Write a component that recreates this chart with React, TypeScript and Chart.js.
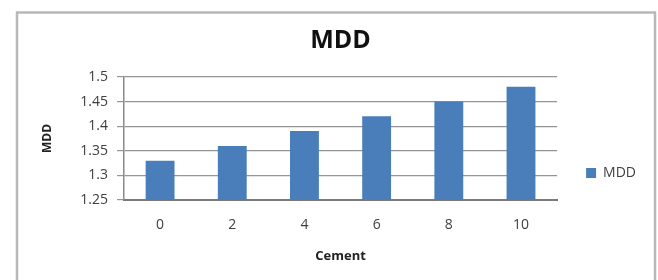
import React, { useEffect, useRef } from "react";
import { Chart, registerables } from "chart.js";

Chart.register(...registerables);

const categories = ["0", "2", "4", "6", "8", "10"];
const mddValues = [1.33, 1.36, 1.39, 1.42, 1.45, 1.48];
const seriesName = "MDD";
const chartTitle = "MDD";
const xTitle = "Cement";
const yTitle = "MDD";
const yMin = 1.25;
const yMax = 1.5;
const yStep = 0.05;

const FONT = "'Open Sans', Lato, 'Liberation Sans', sans-serif";

const framePlugin = {
  id: "frame",
  beforeDraw(chart: any) {
    const ctx = chart.ctx;
    ctx.save();
    ctx.fillStyle = "#ffffff";
    ctx.fillRect(0, 0, chart.width, chart.height);
    ctx.strokeStyle = "#b8b8b8";
    ctx.lineWidth = 2.5;
    ctx.strokeRect(17, 12.5, 638, 300);
    ctx.restore();
  },
};

export default function App() {
  const ref = useRef<HTMLCanvasElement | null>(null);

  useEffect(() => {
    document.body.style.margin = "0";
    const chart = new Chart(ref.current as HTMLCanvasElement, {
      type: "bar",
      data: {
        labels: categories,
        datasets: [
          {
            label: seriesName,
            data: mddValues,
            backgroundColor: "#4a7ebb",
            borderWidth: 0,
            barPercentage: 0.4,
            categoryPercentage: 1,
          },
        ],
      },
      plugins: [framePlugin],
      options: {
        responsive: false,
        animation: false,
        layout: { padding: { top: 0, left: 0, right: 12, bottom: 0 } },
        plugins: {
          tooltip: { enabled: false },
          title: {
            display: true,
            text: chartTitle,
            fullSize: false,
            color: "#111111",
            font: { family: FONT, size: 25, weight: "bold" },
            padding: { top: 26, bottom: 21 },
          },
          legend: {
            display: true,
            position: "right",
            align: "start",
            title: {
              display: true,
              text: "",
              font: { family: FONT, size: 12 },
              padding: { top: 0, bottom: 122.6 },
            },
            labels: {
              boxWidth: 10,
              boxHeight: 10,
              padding: 29,
              color: "#404040",
              font: { family: FONT, size: 14 },
            },
          },
        },
        scales: {
          x: {
            type: "category",
            grid: { display: true, drawOnChartArea: false, drawTicks: false },
            border: { display: true, color: "#7a7a7a", width: 2 },
            ticks: {
              padding: 17,
              color: "#404040",
              font: { family: FONT, size: 14 },
            },
            title: {
              display: true,
              text: xTitle,
              color: "#222222",
              font: { family: FONT, size: 13, weight: "bold" },
              padding: { top: 0, bottom: 16 },
            },
            afterFit(scale: any) {
              scale.height = 80;
            },
          },
          y: {
            min: yMin,
            max: yMax,
            grid: { color: "#959595", lineWidth: 1.2, tickLength: 7 },
            border: { display: true, color: "#8a8a8a", width: 1.5 },
            ticks: {
              stepSize: yStep,
              padding: 9,
              color: "#404040",
              font: { family: FONT, size: 14 },
              callback: (v: any) => String(parseFloat(Number(v).toFixed(2))),
            },
            title: {
              display: true,
              text: yTitle,
              color: "#222222",
              font: { family: FONT, size: 12, weight: "bold" },
              padding: { top: 40, bottom: 0 },
            },
            afterFit(scale: any) {
              scale.width = 124;
            },
          },
        },
      },
    });
    return () => chart.destroy();
  }, []);

  return (
    <div style={{ position: "fixed", left: 0, top: 0, width: 658, height: 280 }}>
      <canvas ref={ref} width={658} height={280} style={{ display: "block" }} />
    </div>
  );
}
